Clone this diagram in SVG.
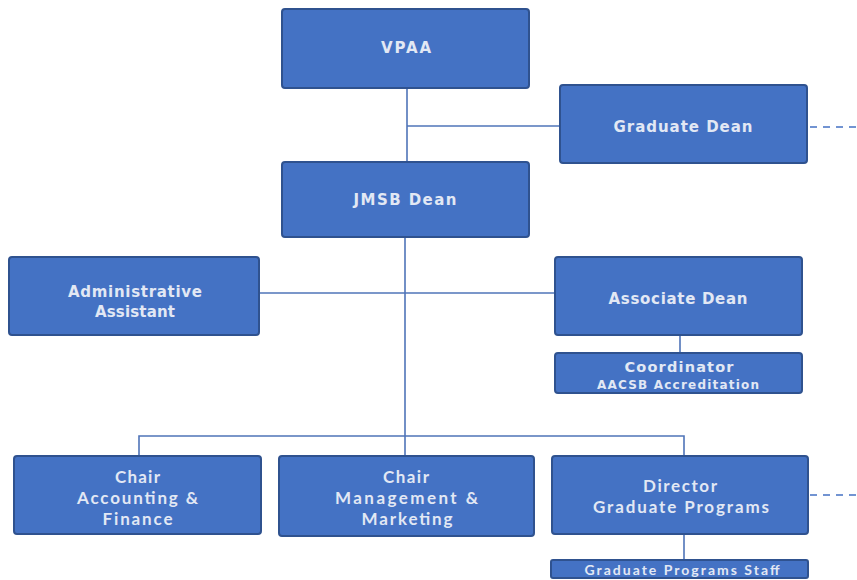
<svg xmlns="http://www.w3.org/2000/svg" width="857" height="580" viewBox="0 0 857 580">
<style>
.box{fill:#4472C4;stroke:#2F528F;stroke-width:2}
.t1{font-family:"DejaVu Sans",Verdana,sans-serif;font-weight:bold;fill:#e2e8f4;text-anchor:middle}
.t2{font-family:Lato,"Open Sans",sans-serif;font-weight:700;fill:#e2e8f4;text-anchor:middle}
.ln{stroke:#4f74b8;stroke-width:1.6;fill:none}
.dash{stroke:#4472C4;stroke-width:1.6;fill:none;stroke-dasharray:7 6}
</style>
<rect width="857" height="580" fill="#ffffff"/>
<g id="connectors">
<path class="ln" d="M407 88V162"/>
<path class="ln" d="M407 126H560"/>
<path class="dash" d="M810 127H857"/>
<path class="ln" d="M405 237V456"/>
<path class="ln" d="M259 293H555"/>
<path class="ln" d="M680 335V353"/>
<path class="ln" d="M139 456V436H684V456"/>
<path class="dash" d="M810 495H857"/>
<path class="ln" d="M684 534V560"/>
</g>
<g id="vpaa">
<rect class="box" x="282" y="9" width="247" height="79" rx="3"/>
<text class="t1" x="406" y="53" font-size="15" textLength="50" lengthAdjust="spacing">VPAA</text>
</g>
<g id="graduate-dean">
<rect class="box" x="560" y="85" width="247" height="78" rx="3"/>
<text class="t1" x="683" y="132" font-size="15" textLength="139" lengthAdjust="spacing">Graduate Dean</text>
</g>
<g id="jmsb-dean">
<rect class="box" x="282" y="162" width="247" height="75" rx="3"/>
<text class="t1" x="405" y="205" font-size="15" textLength="103" lengthAdjust="spacing">JMSB Dean</text>
</g>
<g id="admin-assistant">
<rect class="box" x="9" y="257" width="250" height="78" rx="3"/>
<text class="t1" x="135" y="297" font-size="15" textLength="134" lengthAdjust="spacing">Administrative</text>
<text class="t1" x="135" y="317" font-size="15" textLength="80" lengthAdjust="spacing">Assistant</text>
</g>
<g id="associate-dean">
<rect class="box" x="555" y="257" width="247" height="78" rx="3"/>
<text class="t1" x="678" y="304" font-size="15" textLength="139" lengthAdjust="spacing">Associate Dean</text>
</g>
<g id="coordinator">
<rect class="box" x="555" y="353" width="247" height="40" rx="3"/>
<text class="t1" x="679" y="372" font-size="14.5" textLength="109" lengthAdjust="spacing">Coordinator</text>
<text class="t1" x="678" y="389" font-size="12" textLength="162" lengthAdjust="spacing">AACSB Accreditation</text>
</g>
<g id="chair-accounting">
<rect class="box" x="14" y="456" width="247" height="78" rx="3"/>
<text class="t2" x="137.5" y="483" font-size="17" textLength="45" lengthAdjust="spacing">Chair</text>
<text class="t2" x="137.5" y="504" font-size="17" textLength="121" lengthAdjust="spacing">Accounting &amp;</text>
<text class="t2" x="137.5" y="525" font-size="17" textLength="70" lengthAdjust="spacing">Finance</text>
</g>
<g id="chair-management">
<rect class="box" x="279" y="456" width="255" height="80" rx="3"/>
<text class="t2" x="406" y="483" font-size="17" textLength="46" lengthAdjust="spacing">Chair</text>
<text class="t2" x="406.5" y="504" font-size="17" textLength="143" lengthAdjust="spacing">Management &amp;</text>
<text class="t2" x="407" y="525" font-size="17" textLength="91" lengthAdjust="spacing">Marketing</text>
</g>
<g id="director-graduate-programs">
<rect class="box" x="552" y="456" width="256" height="78" rx="3"/>
<text class="t2" x="680" y="492" font-size="17" textLength="74" lengthAdjust="spacing">Director</text>
<text class="t2" x="681" y="513" font-size="17" textLength="176" lengthAdjust="spacing">Graduate Programs</text>
</g>
<g id="graduate-programs-staff">
<rect class="box" x="551" y="560" width="257" height="18" rx="2"/>
<text class="t2" x="682" y="574.5" font-size="14" textLength="195" lengthAdjust="spacing">Graduate Programs Staff</text>
</g>
</svg>
